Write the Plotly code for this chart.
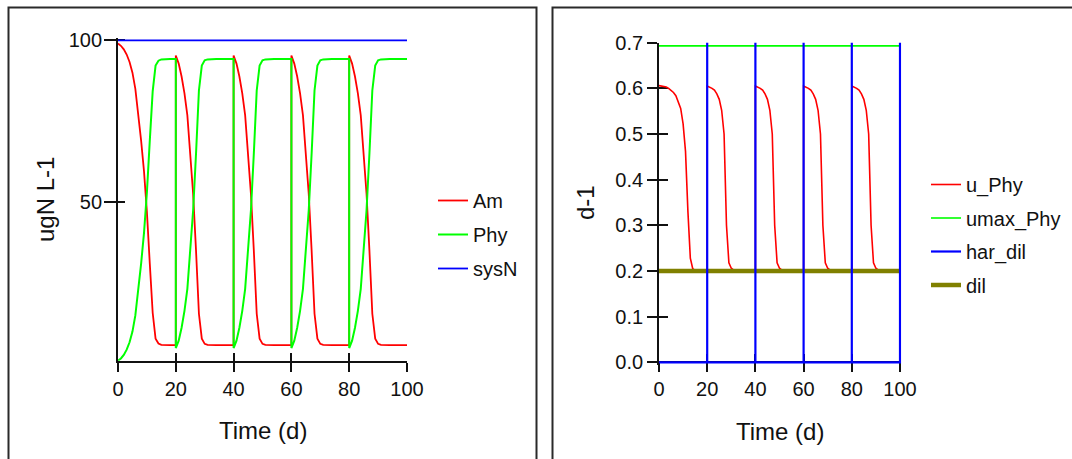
import plotly.graph_objects as go

# ---------------- data ----------------
# simulation time (d); each harvest day appears twice (before / after harvest)
time_d = (list(range(0, 21)) + list(range(20, 41)) + list(range(40, 61))
          + list(range(60, 81)) + list(range(80, 101)))

# ammonium (ugN L-1)
am_first = [99.0, 98.3, 97.2, 95.6, 93.3, 90.0, 85.0, 77.5, 69.0, 59.5, 47.0,
            31.0, 15.8, 7.8, 6.3, 5.9, 5.8, 5.8, 5.8, 5.8, 5.8]
am_c2 = [95.3, 92.8, 88.8, 83.6, 76.8, 65.5, 52.5, 35.0, 15.5, 7.8, 6.2,
         5.9, 5.8, 5.8, 5.8, 5.8, 5.8, 5.8, 5.8, 5.8, 5.8]
am_c3 = [95.3, 92.8, 88.8, 83.6, 76.8, 65.5, 52.5, 35.0, 15.5, 7.8, 6.2,
         5.9, 5.8, 5.8, 5.8, 5.8, 5.8, 5.8, 5.8, 5.8, 5.8]
am_c4 = [95.3, 92.8, 88.8, 83.6, 76.8, 65.5, 52.5, 35.0, 15.5, 7.8, 6.2,
         5.9, 5.8, 5.8, 5.8, 5.8, 5.8, 5.8, 5.8, 5.8, 5.8]
am_c5 = [95.3, 92.8, 88.8, 83.6, 76.8, 65.5, 52.5, 35.0, 15.5, 7.8, 6.2,
         5.9, 5.8, 5.8, 5.8, 5.8, 5.8, 5.8, 5.8, 5.8, 5.8]
Am = am_first + am_c2 + am_c3 + am_c4 + am_c5

# phytoplankton (ugN L-1)
phy_first = [1.0, 1.7, 2.8, 4.4, 6.7, 10.0, 15.0, 22.5, 31.0, 40.5, 53.0,
             69.0, 84.2, 92.2, 93.7, 94.1, 94.2, 94.2, 94.2, 94.2, 94.2]
phy_c2 = [4.9, 7.2, 11.2, 16.4, 23.2, 34.5, 47.5, 65.0, 84.5, 92.2, 93.8,
          94.1, 94.2, 94.2, 94.2, 94.2, 94.2, 94.2, 94.2, 94.2, 94.2]
phy_c3 = [4.9, 7.2, 11.2, 16.4, 23.2, 34.5, 47.5, 65.0, 84.5, 92.2, 93.8,
          94.1, 94.2, 94.2, 94.2, 94.2, 94.2, 94.2, 94.2, 94.2, 94.2]
phy_c4 = [4.9, 7.2, 11.2, 16.4, 23.2, 34.5, 47.5, 65.0, 84.5, 92.2, 93.8,
          94.1, 94.2, 94.2, 94.2, 94.2, 94.2, 94.2, 94.2, 94.2, 94.2]
phy_c5 = [4.9, 7.2, 11.2, 16.4, 23.2, 34.5, 47.5, 65.0, 84.5, 92.2, 93.8,
          94.1, 94.2, 94.2, 94.2, 94.2, 94.2, 94.2, 94.2, 94.2, 94.2]
Phy = phy_first + phy_c2 + phy_c3 + phy_c4 + phy_c5

# total system nitrogen (ugN L-1)
sysN = [100.0] * len(time_d)

# phytoplankton growth rate (d-1)
u_first = [0.606, 0.605, 0.604, 0.603, 0.600, 0.596, 0.591, 0.584, 0.572, 0.556,
           0.522, 0.462, 0.330, 0.228, 0.205, 0.201, 0.200, 0.200, 0.200, 0.200, 0.200]
u_c2 = [0.605, 0.603, 0.600, 0.596, 0.588, 0.576, 0.552, 0.500, 0.300, 0.218,
        0.206, 0.202, 0.200, 0.200, 0.200, 0.200, 0.200, 0.200, 0.200, 0.200, 0.200]
u_c3 = [0.605, 0.603, 0.600, 0.596, 0.588, 0.576, 0.552, 0.500, 0.300, 0.218,
        0.206, 0.202, 0.200, 0.200, 0.200, 0.200, 0.200, 0.200, 0.200, 0.200, 0.200]
u_c4 = [0.605, 0.603, 0.600, 0.596, 0.588, 0.576, 0.552, 0.500, 0.300, 0.218,
        0.206, 0.202, 0.200, 0.200, 0.200, 0.200, 0.200, 0.200, 0.200, 0.200, 0.200]
u_c5 = [0.605, 0.603, 0.600, 0.596, 0.588, 0.576, 0.552, 0.500, 0.300, 0.218,
        0.206, 0.202, 0.200, 0.200, 0.200, 0.200, 0.200, 0.200, 0.200, 0.200, 0.200]
u_Phy = u_first + u_c2 + u_c3 + u_c4 + u_c5

umax_Phy = [0.693] * len(time_d)
dil = [0.2] * len(time_d)

# harvest dilution pulses (d-1)
har_time = [0, 20, 20, 20, 40, 40, 40, 60, 60, 60, 80, 80, 80, 100, 100]
har_dil = [0, 0, 2.94, 0, 0, 2.94, 0, 0, 2.94, 0, 0, 2.94, 0, 0, 2.94]

x_ticks = [0, 20, 40, 60, 80, 100]
left_y_ticks = [50, 100]
right_y_ticks = [0.0, 0.1, 0.2, 0.3, 0.4, 0.5, 0.6, 0.7]

# ---------------- figure ----------------
W, H = 1072, 459
FONT = "Liberation Sans, Arial, sans-serif"
INK = "#111111"


def px_x(p):
    return p / W


def px_y(p):
    return 1 - p / H


RED, GREEN, BLUE, OLIVE = "#ff0000", "#00ff00", "#0000ff", "#808000"

fig = go.Figure()

# left panel: nitrogen pools
fig.add_trace(go.Scatter(x=time_d, y=Am, name="Am", mode="lines",
                         line=dict(color=RED, width=1.8),
                         xaxis="x", yaxis="y", legend="legend", legendgroup="a"))
fig.add_trace(go.Scatter(x=time_d, y=Phy, name="Phy", mode="lines",
                         line=dict(color=GREEN, width=2),
                         xaxis="x", yaxis="y", legend="legend", legendgroup="b"))
fig.add_trace(go.Scatter(x=time_d, y=sysN, name="sysN", mode="lines",
                         line=dict(color=BLUE, width=1.8),
                         xaxis="x", yaxis="y", legend="legend", legendgroup="c"))

# right panel: rates
fig.add_trace(go.Scatter(x=time_d, y=u_Phy, name="u_Phy", mode="lines",
                         line=dict(color=RED, width=1.6),
                         xaxis="x2", yaxis="y2", legend="legend2",
                         legendgroup="d", legendrank=1))
fig.add_trace(go.Scatter(x=time_d, y=umax_Phy, name="umax_Phy", mode="lines",
                         line=dict(color=GREEN, width=1.6),
                         xaxis="x2", yaxis="y2", legend="legend2",
                         legendgroup="e", legendrank=2))
fig.add_trace(go.Scatter(x=time_d, y=dil, name="dil", mode="lines",
                         line=dict(color=OLIVE, width=4.5),
                         xaxis="x2", yaxis="y2", legend="legend2",
                         legendgroup="g", legendrank=4))
fig.add_trace(go.Scatter(x=har_time, y=har_dil, name="har_dil", mode="lines",
                         line=dict(color=BLUE, width=2.2),
                         xaxis="x2", yaxis="y2", legend="legend2",
                         legendgroup="f", legendrank=3))

# carrier traces for the inner half of the crossing tick marks
fig.add_trace(go.Scatter(x=[None], y=[None], xaxis="x3", yaxis="y3",
                         showlegend=False, hoverinfo="skip"))
fig.add_trace(go.Scatter(x=[None], y=[None], xaxis="x4", yaxis="y4",
                         showlegend=False, hoverinfo="skip"))

# left panel: x 0..100 -> 118..407 px, y 1..100 -> 360.7..40.3 px
L_RANGE_Y = [1, 100.6]
L_DOM_X = [px_x(118), px_x(407)]
L_DOM_Y = [px_y(360.7), px_y(40.3 - 0.6 * 3.236)]

# right panel: x 0..100 -> 659..900 px, y 0..0.7 -> 362.3..42.7 px
R_RANGE_X = [0, 100.6]
R_RANGE_Y = [-0.005, 0.7]
R_DOM_X = [px_x(659), px_x(900 + 0.6 * 2.41)]
R_DOM_Y = [px_y(362.3 + 0.005 * 456.6), px_y(42.7)]
R_XAXIS_POS = px_y(362.3)

tick_font = dict(family=FONT, size=20, color=INK)

main_axis = dict(showgrid=False, zeroline=False, showline=True, linecolor=INK,
                 linewidth=1.8, ticks="outside", tickcolor=INK, tickwidth=1.8,
                 tickfont=tick_font, automargin=False, layer="below traces")
inner_axis = dict(showgrid=False, zeroline=False, showline=False, ticks="inside",
                  tickcolor=INK, tickwidth=1.8, showticklabels=False,
                  automargin=False, layer="below traces")

fig.update_layout(
    width=W, height=H, autosize=False,
    margin=dict(l=0, r=0, t=0, b=0),
    paper_bgcolor="white", plot_bgcolor="white",
    font=dict(family=FONT, color=INK),
    xaxis=dict(main_axis, domain=L_DOM_X, range=[0, 100], tickvals=x_ticks,
               ticklen=9, anchor="y"),
    yaxis=dict(main_axis, domain=L_DOM_Y, range=L_RANGE_Y, tickvals=left_y_ticks,
               ticklen=12, anchor="x", ticklabelstandoff=-2),
    xaxis2=dict(main_axis, domain=R_DOM_X, range=R_RANGE_X, tickvals=x_ticks,
                ticklen=9, anchor="free", position=R_XAXIS_POS),
    yaxis2=dict(main_axis, domain=R_DOM_Y, range=R_RANGE_Y, tickvals=right_y_ticks,
                tickformat=".1f", ticklen=10, anchor="x2"),
    xaxis3=dict(inner_axis, domain=L_DOM_X, range=[0, 100], tickvals=x_ticks[1:],
                ticklen=8, anchor="y3", overlaying="x"),
    yaxis3=dict(inner_axis, domain=L_DOM_Y, range=L_RANGE_Y, tickvals=left_y_ticks,
                ticklen=7, anchor="x3", overlaying="y"),
    xaxis4=dict(inner_axis, domain=R_DOM_X, range=R_RANGE_X, tickvals=x_ticks[1:],
                ticklen=8, anchor="free", position=R_XAXIS_POS, overlaying="x2"),
    yaxis4=dict(inner_axis, domain=R_DOM_Y, range=R_RANGE_Y, tickvals=right_y_ticks,
                ticklen=9, anchor="x4", overlaying="y2"),
    legend=dict(x=px_x(433), y=px_y(181), xanchor="left", yanchor="top",
                bgcolor="rgba(0,0,0,0)", borderwidth=0,
                font=dict(family=FONT, size=20, color=INK),
                traceorder="grouped", tracegroupgap=5),
    legend2=dict(x=px_x(926), y=px_y(165), xanchor="left", yanchor="top",
                 bgcolor="rgba(0,0,0,0)", borderwidth=0,
                 font=dict(family=FONT, size=20, color=INK),
                 traceorder="grouped", tracegroupgap=4.5),
    showlegend=True,
)

# axis titles
title_font = dict(family=FONT, size=24, color=INK)
fig.add_annotation(text="Time (d)", x=px_x(262.5), y=px_y(430), xref="paper",
                   yref="paper", showarrow=False, font=title_font,
                   xanchor="center", yanchor="middle")
fig.add_annotation(text="ugN L-1", x=px_x(45), y=px_y(200), xref="paper",
                   yref="paper", showarrow=False, font=title_font, textangle=-90,
                   xanchor="center", yanchor="middle")
fig.add_annotation(text="Time (d)", x=px_x(779.5), y=px_y(431), xref="paper",
                   yref="paper", showarrow=False, font=title_font,
                   xanchor="center", yanchor="middle")
fig.add_annotation(text="d-1", x=px_x(585), y=px_y(203), xref="paper",
                   yref="paper", showarrow=False, font=title_font, textangle=-90,
                   xanchor="center", yanchor="middle")

# panel frames
frame = dict(type="rect", xref="paper", yref="paper",
             line=dict(color="#2a2a2a", width=2), fillcolor="rgba(0,0,0,0)")
fig.add_shape(frame, x0=px_x(8.5), x1=px_x(536.5), y0=px_y(480), y1=px_y(7.5))
fig.add_shape(frame, x0=px_x(552.5), x1=px_x(1090), y0=px_y(480), y1=px_y(7.5))

fig.write_html("out.html")
